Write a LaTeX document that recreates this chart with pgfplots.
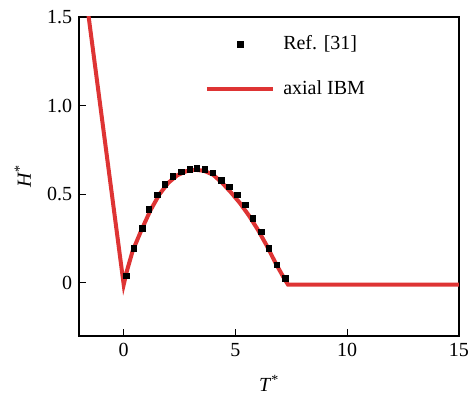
\documentclass[border=0pt]{standalone}
\usepackage{pgfplots}
\pgfplotsset{compat=1.18}
\usepackage{fontspec}
\setmainfont{Liberation Serif}
\definecolor{myred}{RGB}{222,52,52}
\pgfplotsset{
  marklegend/.style={legend image code/.code={\draw[#1] plot coordinates {(0.875cm,0cm)};}},
  linelegend/.style={legend image code/.code={\draw[#1] (0cm,0cm) -- (1.75cm,0cm);}},
}
\begin{document}
\fontsize{15}{18}\selectfont
\begin{tikzpicture}
\begin{axis}[
  scale only axis,
  width=285pt, height=239.25pt,
  xmin=-2, xmax=15, ymin=-0.3, ymax=1.5,
  xtick={0,5,10,15}, ytick={0,0.5,1.0,1.5},
  yticklabels={0,0.5,1.0,1.5},
  tick pos=left, tick align=inside,
  major tick length=5pt,
  /pgf/number format/assume math mode=true,
  tick label style={font=\fontsize{15}{18}\selectfont},
  xticklabel style={inner xsep=0pt},
  label style={font=\fontsize{15}{18}\selectfont},
  xlabel={\textit{T}\textsuperscript{*}},
  ylabel={\textit{H}\textsuperscript{*}},
  xlabel style={yshift=-4pt},
  ylabel style={yshift=2pt},
  axis line style={line width=0.8pt},
  every tick/.style={line width=0.8pt, black},
  legend style={draw=none, fill=none, at={(0.32,0.955)}, anchor=north west,
    font=\fontsize{15}{18}\selectfont, row sep=19pt, column sep=5pt,
    nodes={inner sep=1pt}},
  legend cell align=left,
  clip=true,
]
\addplot[only marks, mark=square*, mark size=2.1pt, black, marklegend]
coordinates {
(0.12,0.04)(0.45,0.195)(0.83,0.308)(1.13,0.415)(1.49,0.496)(1.83,0.556)
(2.2,0.6)(2.58,0.627)(2.95,0.642)(3.27,0.646)(3.62,0.64)(3.99,0.621)
(4.36,0.578)(4.73,0.543)(5.08,0.496)(5.43,0.44)(5.77,0.364)(6.15,0.289)
(6.49,0.195)(6.84,0.101)(7.23,0.026)
};
\addlegendentry{Ref. [31]}
\addplot[myred, line width=3pt, no marks, linelegend]
coordinates {
(-1.65,1.58)(0,-0.01)(0.15,0.07)(0.4,0.18)(0.8,0.3)(1.2,0.41)(1.6,0.5)
(2.0,0.565)(2.4,0.607)(2.8,0.63)(3.2,0.638)(3.6,0.632)(4.0,0.61)
(4.4,0.565)(4.8,0.51)(5.2,0.45)(5.6,0.38)(6.0,0.3)(6.4,0.21)
(6.8,0.11)(7.2,0.02)(7.35,-0.01)(15,-0.01)
};
\addlegendentry{axial IBM}
\end{axis}
\path ([shift={(-59.25pt,-47.25pt)}]current axis.south west) rectangle ([shift={(6pt,12.75pt)}]current axis.north east);
\end{tikzpicture}
\end{document}
